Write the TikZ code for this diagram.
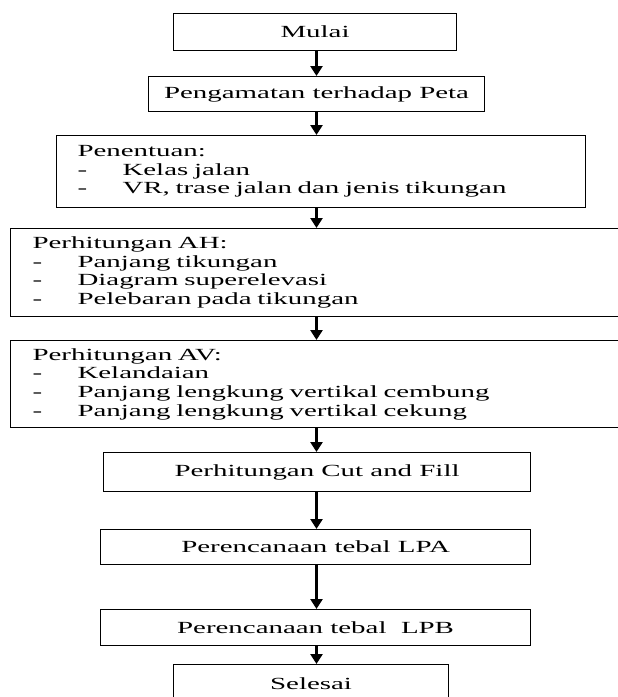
\documentclass[tikz,border=0pt]{standalone}
\usepackage{fontspec}
\setmainfont{Liberation Serif}[FakeStretch=1.7]
\usetikzlibrary{arrows.meta}
\newcommand{\itm}[1]{\makebox[45pt][l]{-}#1}
\begin{document}
\begin{tikzpicture}[x=1pt,y=1pt,
  box/.style={draw=black, line width=1.1pt, inner sep=0pt, anchor=north west,
    font=\fontsize{17}{18.7}\selectfont, align=center},
  listbox/.style={box, align=left, inner xsep=21pt, inner ysep=0pt},
  arr/.style={line width=2.8pt, -{Triangle[length=10pt,width=12pt]}}
]
\useasboundingbox (0,0) rectangle (618,-697);
\clip (0,0) rectangle (618,-697);
\coordinate (ax) at (316.5,0);

\node[box, minimum width=283pt, minimum height=37pt] (b1) at (173,-13) {Mulai};
\node[box, minimum width=336pt, minimum height=35pt] (b2) at (148,-76) {Pengamatan terhadap Peta};
\node[listbox, text width=487pt, minimum height=72pt] (b3) at (56,-135)
  {Penentuan:\\ \itm{Kelas jalan}\\ \itm{VR, trase jalan dan jenis tikungan}};
\node[listbox, inner xsep=22pt, text width=564.5pt, minimum height=88pt] (b4) at (10,-228)
  {Perhitungan AH:\\ \itm{Panjang tikungan}\\ \itm{Diagram superelevasi}\\ \itm{Pelebaran pada tikungan}};
\node[listbox, inner xsep=22pt, text width=564.5pt, minimum height=87pt] (b5) at (10,-340)
  {Perhitungan AV:\\ \itm{Kelandaian}\\ \itm{Panjang lengkung vertikal cembung}\\ \itm{Panjang lengkung vertikal cekung}};
\node[box, minimum width=427pt, minimum height=39pt] (b6) at (103,-452) {Perhitungan Cut and Fill};
\node[box, minimum width=430pt, minimum height=35pt] (b7) at (100,-529) {Perencanaan tebal LPA};
\node[box, minimum width=430pt, minimum height=36pt] (b8) at (100,-609) {Perencanaan tebal\ \ LPB};
\node[box, minimum width=275pt, minimum height=38pt] (b9) at (173,-664) {Selesai};

\draw[arr] (b1.south -| ax) -- (b2.north -| ax);
\draw[arr] (b2.south -| ax) -- (b3.north -| ax);
\draw[arr] (b3.south -| ax) -- (b4.north -| ax);
\draw[arr] (b4.south -| ax) -- (b5.north -| ax);
\draw[arr] (b5.south -| ax) -- (b6.north -| ax);
\draw[arr] (b6.south -| ax) -- (b7.north -| ax);
\draw[arr] (b7.south -| ax) -- (b8.north -| ax);
\draw[arr] (b8.south -| ax) -- (b9.north -| ax);
\end{tikzpicture}
\end{document}
